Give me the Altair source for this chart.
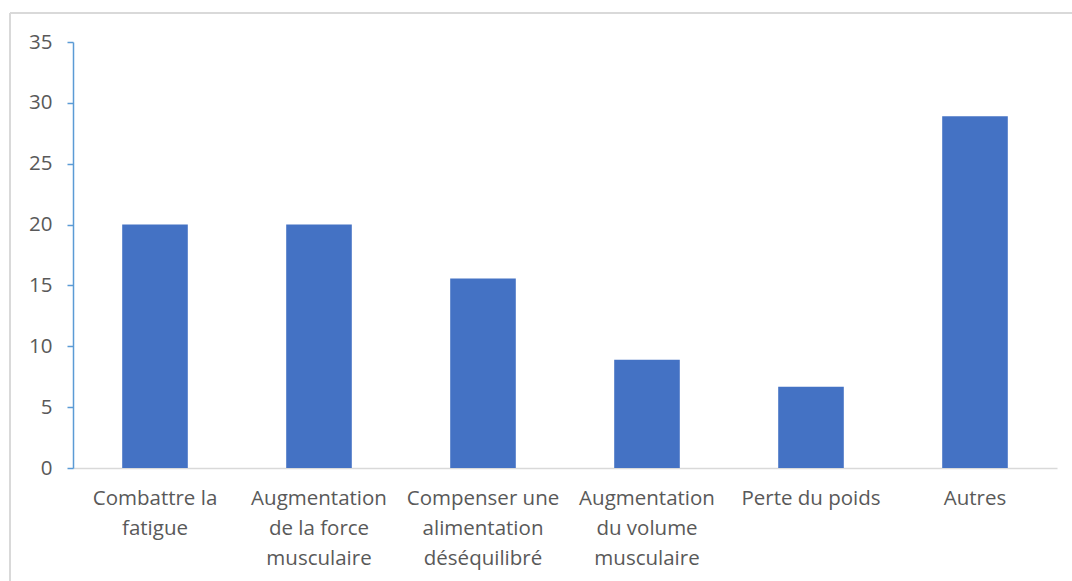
import altair as alt
import pandas as pd

# Reasons given (multi-line labels separated by "|")
categories = [
    "Combattre la|fatigue",
    "Augmentation|de la force|musculaire",
    "Compenser une|alimentation|déséquilibré",
    "Augmentation|du volume|musculaire",
    "Perte du poids",
    "Autres",
]
values = [20.0, 20.0, 15.56, 8.89, 6.67, 28.89]
y_ticks = [0, 5, 10, 15, 20, 25, 30, 35]

df = pd.DataFrame({"cat": categories, "val": values})

FONT = "Open Sans"
TEXT = "#595959"

bars = alt.Chart(df).mark_bar(color="#4472C4").encode(
    x=alt.X(
        "cat:N",
        sort=categories,
        title=None,
        scale=alt.Scale(paddingInner=0.6, paddingOuter=0.3),
        axis=alt.Axis(
            labelExpr="split(datum.label, '|')",
            labelAngle=0,
            labelLineHeight=30,
            labelBaseline="top",
            labelPadding=20,
            ticks=False,
            domainColor="#D9D9D9",
            domainWidth=1.5,
            labelFont=FONT,
            labelFontSize=20.5,
            labelColor=TEXT,
            labelLimit=220,
        ),
    ),
    y=alt.Y(
        "val:Q",
        title=None,
        scale=alt.Scale(domain=[0, 35], nice=False),
        axis=alt.Axis(
            values=y_ticks,
            grid=False,
            domainColor="#5B9BD5",
            domainWidth=1.5,
            tickColor="#5B9BD5",
            tickWidth=1.5,
            tickSize=6,
            labelPadding=15,
            labelFont=FONT,
            labelFontSize=20.5,
            labelColor=TEXT,
        ),
    ),
)

# Outer chart frame (top and left edges)
frame_top = alt.Chart(df).mark_rule(color="#D9D9D9", strokeWidth=2).encode(
    x=alt.value(-63), x2=alt.value(1000), y=alt.value(-29)
)
frame_left = alt.Chart(df).mark_rule(color="#D9D9D9", strokeWidth=2).encode(
    x=alt.value(-63), y=alt.value(-29), y2=alt.value(540)
)

chart = (
    alt.layer(frame_top, frame_left, bars)
    .properties(
        width=984,
        height=426,
        autosize=alt.AutoSizeParams(type="none"),
        padding={"left": 73, "top": 42, "right": 15, "bottom": 113},
        background="white",
    )
    .configure_view(stroke=None)
)

chart.save("out.html", embed_options={"renderer": "svg", "actions": False})
